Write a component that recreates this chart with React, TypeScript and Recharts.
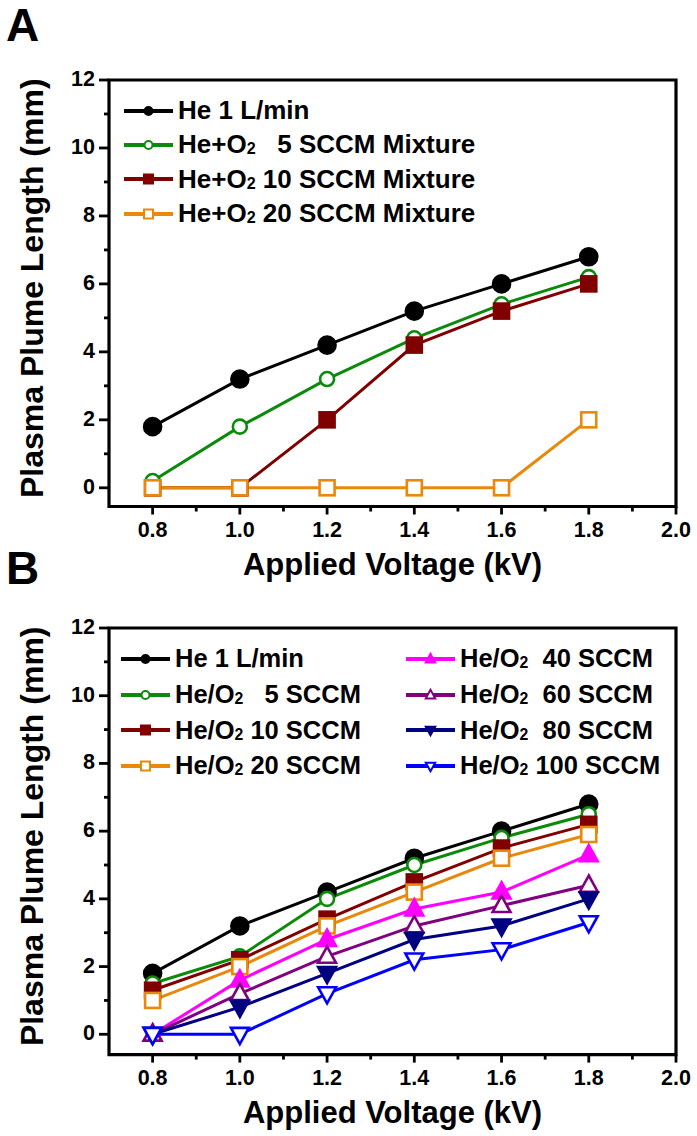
import { LineChart, Line, XAxis, YAxis, Legend, ReferenceArea } from "recharts";

// x values (kV)
const voltage = [0.8, 1.0, 1.2, 1.4, 1.6, 1.8];

// panel A: plume length (mm)
const aHe = [1.8, 3.2, 4.2, 5.2, 6.0, 6.8];
const aMix5 = [0.2, 1.8, 3.2, 4.4, 5.4, 6.2];
const aMix10 = [0, 0, 2.0, 4.2, 5.2, 6.0];
const aMix20 = [0, 0, 0, 0, 0, 2.0];

// panel B: plume length (mm)
const bHe = [1.8, 3.2, 4.2, 5.2, 6.0, 6.8];
const b5 = [1.5, 2.3, 4.0, 5.0, 5.8, 6.5];
const b10 = [1.3, 2.2, 3.4, 4.5, 5.5, 6.2];
const b20 = [1.0, 2.0, 3.2, 4.2, 5.2, 5.9];
const b40 = [0, 1.6, 2.8, 3.7, 4.2, 5.3];
const b60 = [0, 1.2, 2.3, 3.2, 3.8, 4.4];
const b80 = [0, 0.8, 1.8, 2.8, 3.2, 4.0];
const b100 = [0, 0, 1.2, 2.2, 2.5, 3.3];

const yTicks = [0, 1, 2, 3, 4, 5, 6, 7, 8, 9, 10, 11, 12];
const xTicks = [0.8, 0.9, 1.0, 1.1, 1.2, 1.3, 1.4, 1.5, 1.6, 1.7, 1.8, 1.9, 2.0];

const FONT = '"Liberation Sans", Arial, Helvetica, sans-serif';

type Shape = "circle" | "square" | "triUp" | "triDown";
type Series = { key: string; name: string; values: number[]; color: string; shape: Shape; filled: boolean };

const seriesA: Series[] = [
  { key: "he", name: "He 1 L/min", values: aHe, color: "#000000", shape: "circle", filled: true },
  { key: "m5", name: "He+O₂   5 SCCM Mixture", values: aMix5, color: "#0b8a0b", shape: "circle", filled: false },
  { key: "m10", name: "He+O₂ 10 SCCM Mixture", values: aMix10, color: "#800000", shape: "square", filled: true },
  { key: "m20", name: "He+O₂ 20 SCCM Mixture", values: aMix20, color: "#e8890c", shape: "square", filled: false },
];

const seriesB: Series[] = [
  { key: "he", name: "He 1 L/min", values: bHe, color: "#000000", shape: "circle", filled: true },
  { key: "s5", name: "He/O₂   5 SCCM", values: b5, color: "#0b8a0b", shape: "circle", filled: false },
  { key: "s10", name: "He/O₂ 10 SCCM", values: b10, color: "#800000", shape: "square", filled: true },
  { key: "s20", name: "He/O₂ 20 SCCM", values: b20, color: "#e8890c", shape: "square", filled: false },
  { key: "s40", name: "He/O₂  40 SCCM", values: b40, color: "#ff00ff", shape: "triUp", filled: true },
  { key: "s60", name: "He/O₂  60 SCCM", values: b60, color: "#800080", shape: "triUp", filled: false },
  { key: "s80", name: "He/O₂  80 SCCM", values: b80, color: "#000080", shape: "triDown", filled: true },
  { key: "s100", name: "He/O₂ 100 SCCM", values: b100, color: "#0000ff", shape: "triDown", filled: false },
];

const toRows = (list: Series[]) =>
  voltage.map((v, i) => {
    const row: Record<string, number> = { v };
    list.forEach((s) => (row[s.key] = s.values[i]));
    return row;
  });

const rowsA = toRows(seriesA);
const rowsB = toRows(seriesB);

function Marker({ cx, cy, shape, color, filled, r, sw }: any) {
  const fill = filled ? color : "#fff";
  if (shape === "circle") return <circle cx={cx} cy={cy} r={r} fill={fill} stroke={color} strokeWidth={sw} />;
  if (shape === "square")
    return <rect x={cx - r} y={cy - r} width={2 * r} height={2 * r} fill={fill} stroke={color} strokeWidth={sw} />;
  const d = shape === "triUp" ? 1 : -1;
  const pts = `${cx},${cy - d * r * 1.15} ${cx - r * 1.05},${cy + d * r * 0.75} ${cx + r * 1.05},${cy + d * r * 0.75}`;
  return <polygon points={pts} fill={fill} stroke={color} strokeWidth={sw} strokeLinejoin="miter" />;
}

const sizeOf = (s: Series) => (s.shape === "circle" ? (s.filled ? 8.5 : 7) : s.shape === "square" ? 7.5 : 8.5);

const makeDot = (s: Series) => (p: any) => (
  <Marker key={`${s.key}-${p.index}`} cx={p.cx} cy={p.cy} shape={s.shape} color={s.color} filled={s.filled} r={sizeOf(s)} sw={2.6} />
);

function YTick({ x, y, payload }: any) {
  const major = payload.value % 2 === 0;
  return (
    <g>
      <line x1={x - (major ? 10 : 5)} x2={x} y1={y} y2={y} stroke="#000" strokeWidth={2.8} />
      {major && (
        <text x={x - 14} y={y + 6} textAnchor="end" fontFamily={FONT} fontWeight={700} fontSize={21.5} fill="#000">
          {payload.value}
        </text>
      )}
    </g>
  );
}

function XTick({ x, y, payload }: any) {
  const major = Math.round(payload.value * 10) % 2 === 0;
  return (
    <g>
      <line x1={x} x2={x} y1={y} y2={y + (major ? 8 : 5)} stroke="#000" strokeWidth={2.8} />
      {major && (
        <text x={x} y={y + 30} textAnchor="middle" fontFamily={FONT} fontWeight={700} fontSize={21.5} fill="#000">
          {payload.value.toFixed(1)}
        </text>
      )}
    </g>
  );
}

const renderName = (name: string) => {
  const parts = name.split("₂");
  if (parts.length === 1) return name;
  return (
    <>
      {parts[0]}
      <span style={{ fontSize: "0.62em", position: "relative", top: 1 }}>2</span>
      {parts[1]}
    </>
  );
};

function LegendBox({ items, rowH, colW, fontSize }: { items: Series[]; rowH: number; colW?: number; fontSize: number }) {
  const half = colW ? Math.ceil(items.length / 2) : items.length;
  const cols = colW ? [items.slice(0, half), items.slice(half)] : [items];
  return (
    <div style={{ display: "flex" }}>
      {cols.map((col, ci) => (
        <div key={ci} style={{ width: colW }}>
          {col.map((s) => (
            <div key={s.key} style={{ display: "flex", alignItems: "center", height: rowH }}>
              <svg width={50} height={20} style={{ flex: "none" }}>
                <line x1={0} y1={10} x2={49} y2={10} stroke={s.color} strokeWidth={4} />
                <Marker cx={24.5} cy={10} shape={s.shape} color={s.color} filled={s.filled} r={s.shape === "circle" ? 4 : 4.5} sw={2} />
              </svg>
              <span style={{ marginLeft: 4, fontFamily: FONT, fontWeight: 700, fontSize, whiteSpace: "pre", color: "#000" }}>
                {renderName(s.name)}
              </span>
            </div>
          ))}
        </div>
      ))}
    </div>
  );
}

function XTitle({ viewBox }: any) {
  return (
    <text x={viewBox.x + viewBox.width / 2} y={viewBox.y + 68.5} textAnchor="middle" fontFamily={FONT} fontWeight={700} fontSize={31} fill="#000">
      Applied Voltage (kV)
    </text>
  );
}

function YTitle({ viewBox }: any) {
  const cy = viewBox.y + viewBox.height / 2 - 5;
  return (
    <text transform={`translate(43, ${cy}) rotate(-90)`} textAnchor="middle" fontFamily={FONT} fontWeight={700} fontSize={32} fill="#000">
      Plasma Plume Length (mm)
    </text>
  );
}

function Panel({ rows, series, height, marginTop, marginBottom, yMin, legendTop, legendLeft, rowH, colW, legendFont }: any) {
  return (
    <LineChart width={697} height={height} data={rows} margin={{ top: marginTop, right: 21, bottom: marginBottom, left: 49 }}>
      <XAxis
        dataKey="v"
        type="number"
        domain={[0.7, 2.0]}
        allowDataOverflow
        ticks={xTicks}
        interval={0}
        height={30}
        tickSize={0}
        tickMargin={0}
        axisLine={false}
        tickLine={false}
        tick={<XTick />}
        label={{ content: <XTitle /> }}
      />
      <YAxis
        type="number"
        domain={[yMin, 12]}
        allowDataOverflow
        ticks={yTicks}
        interval={0}
        width={60}
        tickSize={0}
        tickMargin={0}
        axisLine={false}
        tickLine={false}
        tick={<YTick />}
        label={{ content: <YTitle /> }}
      />
      <ReferenceArea x1={0.7} x2={2.0} y1={yMin} y2={12} fill="none" stroke="#000" strokeWidth={3.2} ifOverflow="visible" />
      {series.map((s: Series) => (
        <Line
          key={s.key}
          type="linear"
          dataKey={s.key}
          name={s.name}
          stroke={s.color}
          strokeWidth={3}
          dot={makeDot(s)}
          activeDot={false}
          isAnimationActive={false}
        />
      ))}
      <Legend
        layout="vertical"
        align="center"
        verticalAlign="middle"
        wrapperStyle={{ top: legendTop, left: legendLeft, width: "auto" }}
        content={() => <LegendBox items={series} rowH={rowH} colW={colW} fontSize={legendFont} />}
      />
    </LineChart>
  );
}

export default function App() {
  return (
    <div style={{ position: "absolute", left: 0, top: 0, width: 697, height: 1136, background: "#fff" }}>
      <div style={{ position: "absolute", left: 0, top: 0 }}>
        <Panel rows={rowsA} series={seriesA} height={590} marginTop={80} marginBottom={53.5} yMin={-0.55} legendTop={93.5} legendLeft={124} rowH={34.3} legendFont={26} />
      </div>
      <div style={{ position: "absolute", left: 0, top: 590 }}>
        <Panel rows={rowsB} series={seriesB} height={546} marginTop={38} marginBottom={51.4} yMin={-0.6} legendTop={51} legendLeft={121} rowH={35.7} colW={285} legendFont={25.5} />
      </div>
      <div style={{ position: "absolute", left: 6, top: 2, fontFamily: FONT, fontWeight: 700, fontSize: 46, lineHeight: "46px" }}>A</div>
      <div style={{ position: "absolute", left: 6, top: 545, fontFamily: FONT, fontWeight: 700, fontSize: 46, lineHeight: "46px" }}>B</div>
    </div>
  );
}
